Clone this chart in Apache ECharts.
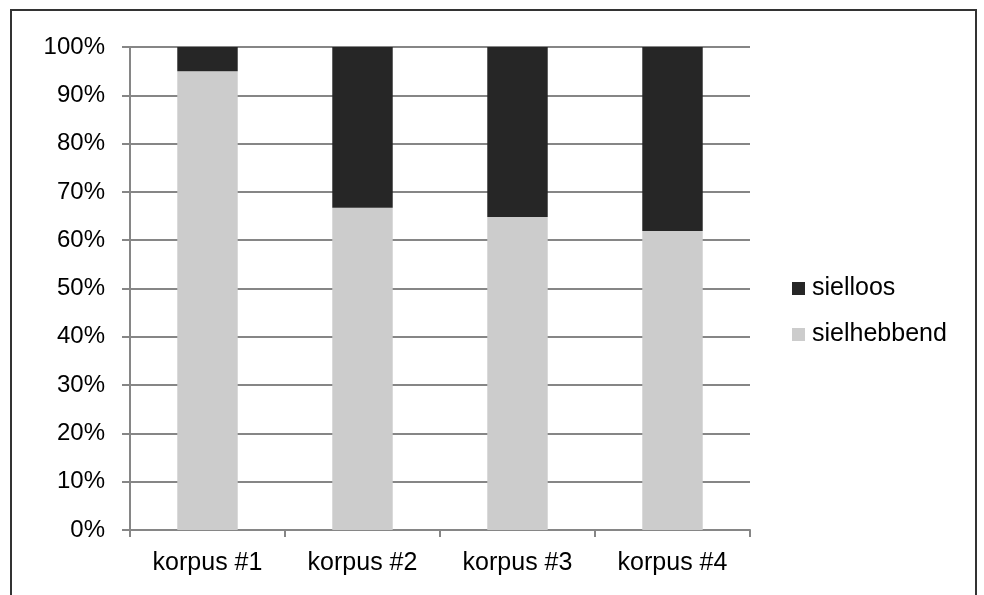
<!DOCTYPE html>
<html>
<head>
  <meta charset="utf-8">
</head>
<body style="height: 100%; margin: 0; background: #fff">
  <div id="container" style="width: 984px; height: 595px"></div>
  <script src="https://cdn.jsdelivr.net/npm/echarts@6/dist/echarts.min.js"></script>
  <script type="text/javascript">
    var categories = ['korpus #1', 'korpus #2', 'korpus #3', 'korpus #4'];
    var sielhebbend = [95, 66.7, 64.8, 61.9];
    var sielloos = [5, 33.3, 35.2, 38.1];

    var dom = document.getElementById('container');
    var myChart = echarts.init(dom, null, { renderer: 'canvas' });

    var font = 'Liberation Sans, Arial, sans-serif';
    var axisGrey = '#868686';

    var option = {
      animation: false,
      textStyle: { fontFamily: font },
      graphic: [
        {
          type: 'rect',
          shape: { x: 11, y: 10, width: 965, height: 600 },
          style: { fill: 'none', stroke: '#333', lineWidth: 2 },
          silent: true
        }
      ],
      grid: { left: 130, right: 234, top: 47, bottom: 65 },
      legend: {
        orient: 'vertical',
        left: 787,
        top: 271,
        itemWidth: 13,
        itemHeight: 13,
        itemGap: 21,
        icon: 'rect',
        data: ['sielloos', 'sielhebbend'],
        textStyle: { fontSize: 25, color: '#000', fontFamily: font, padding: [0, 0, 0, 2] }
      },
      xAxis: {
        type: 'category',
        data: categories,
        axisLine: { lineStyle: { color: axisGrey, width: 2 } },
        axisTick: { show: true, length: 7, lineStyle: { color: axisGrey, width: 2 } },
        axisLabel: { fontSize: 25, color: '#000', margin: 21, fontFamily: font }
      },
      yAxis: {
        type: 'value',
        min: 0,
        max: 100,
        interval: 10,
        axisLine: { show: true, lineStyle: { color: axisGrey, width: 2 } },
        axisTick: { show: true, length: 8, lineStyle: { color: axisGrey, width: 2 } },
        axisLabel: {
          fontSize: 24,
          color: '#000',
          margin: 25,
          fontFamily: font,
          formatter: '{value}%'
        },
        splitLine: { lineStyle: { color: axisGrey, width: 2 } }
      },
      series: [
        {
          name: 'sielhebbend',
          type: 'bar',
          stack: 'total',
          barWidth: '39%',
          data: sielhebbend,
          itemStyle: { color: '#cccccc' }
        },
        {
          name: 'sielloos',
          type: 'bar',
          stack: 'total',
          barWidth: '39%',
          data: sielloos,
          itemStyle: { color: '#262626' }
        }
      ]
    };

    myChart.setOption(option);
    window.addEventListener('resize', myChart.resize);
  </script>
</body>
</html>
